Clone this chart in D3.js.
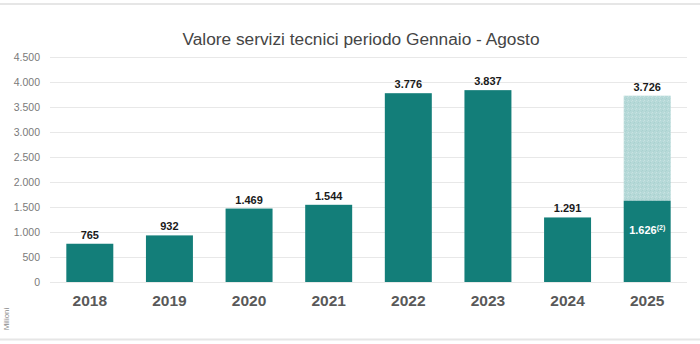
<!DOCTYPE html>
<html>
<head>
<meta charset="utf-8">
<script src="https://cdn.jsdelivr.net/npm/d3@7"></script>
<style>
  html, body { margin: 0; padding: 0; background: #fff; }
  svg { display: block; font-family: "Liberation Sans", Arial, sans-serif; }
</style>
</head>
<body>
<svg id="chart" width="700" height="344"></svg>
<script>
const years = ["2018", "2019", "2020", "2021", "2022", "2023", "2024", "2025"];
const solidValues = [765, 932, 1469, 1544, 3776, 3837, 1291, 1626];
const totalValues = [765, 932, 1469, 1544, 3776, 3837, 1291, 3726];
const yTicks = [0, 500, 1000, 1500, 2000, 2500, 3000, 3500, 4000, 4500];
const titleText = "Valore servizi tecnici periodo Gennaio - Agosto";
const unitText = "Milioni";

const fmt = v => d3.format(",")(v).replace(/,/g, ".");

const svg = d3.select("#chart");
const W = 700, H = 344;

const x = d3.scaleBand().domain(years).range([50, 687]).paddingInner(0.41).paddingOuter(0.205);
const y = d3.scaleLinear().domain([0, 4500]).range([282, 57]);

// frame lines
svg.append("line").attr("x1", 0).attr("x2", W).attr("y1", 4).attr("y2", 4)
  .attr("stroke", "#e6e6e6").attr("stroke-width", 2);
svg.append("line").attr("x1", 0).attr("x2", W).attr("y1", 339.5).attr("y2", 339.5)
  .attr("stroke", "#e6e6e6").attr("stroke-width", 2);

// pattern for projected part
const defs = svg.append("defs");
const pat = defs.append("pattern").attr("id", "dots").attr("patternUnits", "userSpaceOnUse")
  .attr("width", 4).attr("height", 4);
pat.append("rect").attr("width", 4).attr("height", 4).attr("fill", "#b6d9d8");
pat.append("rect").attr("x", 0).attr("y", 0).attr("width", 1).attr("height", 1).attr("fill", "#c9e3e2");
pat.append("rect").attr("x", 2).attr("y", 2).attr("width", 1).attr("height", 1).attr("fill", "#a9d1cf");
pat.append("rect").attr("x", 3).attr("y", 1).attr("width", 1).attr("height", 1).attr("fill", "#c4e0df");
pat.append("rect").attr("x", 1).attr("y", 3).attr("width", 1).attr("height", 1).attr("fill", "#add3d1");

// title
svg.append("text").attr("x", 361).attr("y", 45).attr("text-anchor", "middle")
  .attr("font-size", 17.3).attr("fill", "#454545").text(titleText);

// y axis
const yAxis = d3.axisLeft(y).tickValues(yTicks).tickSize(-(687 - 50)).tickPadding(10)
  .tickFormat(fmt);
const gy = svg.append("g").attr("transform", "translate(50,0)").call(yAxis);
gy.select(".domain").remove();
gy.selectAll(".tick line").attr("stroke", "#e8e8e8").attr("stroke-width", 1.2);
gy.selectAll(".tick text").attr("font-size", 10.5).attr("fill", "#7a7a7a")
  .attr("font-family", "Liberation Sans, Arial, sans-serif");

// x axis
const xAxis = d3.axisBottom(x).tickSize(0).tickPadding(13);
const gx = svg.append("g").attr("transform", "translate(0,282)").call(xAxis);
gx.select(".domain").remove();
gx.selectAll(".tick text").attr("font-size", 15.5).attr("font-weight", "bold").attr("fill", "#595959")
  .attr("font-family", "Liberation Sans, Arial, sans-serif");

// projected (light) bars
svg.append("g").selectAll("rect").data(years).join("rect")
  .filter((d, i) => totalValues[i] > solidValues[i])
  .attr("x", d => x(d))
  .attr("width", x.bandwidth())
  .attr("y", d => y(totalValues[years.indexOf(d)]))
  .attr("height", d => y(solidValues[years.indexOf(d)]) - y(totalValues[years.indexOf(d)]))
  .attr("fill", "url(#dots)");

// solid bars
svg.append("g").selectAll("rect").data(years).join("rect")
  .attr("x", d => x(d))
  .attr("width", x.bandwidth())
  .attr("y", (d, i) => y(solidValues[i]))
  .attr("height", (d, i) => y(0) - y(solidValues[i]))
  .attr("fill", "#137e79");

// total labels
svg.append("g").selectAll("text").data(years).join("text")
  .attr("x", d => x(d) + x.bandwidth() / 2)
  .attr("y", (d, i) => y(totalValues[i]) - 5)
  .attr("text-anchor", "middle")
  .attr("font-size", 11).attr("font-weight", "bold").attr("fill", "#1a1a1a")
  .text((d, i) => fmt(totalValues[i]));

// inner label for partial bar
years.forEach((d, i) => {
  if (totalValues[i] > solidValues[i]) {
    const t = svg.append("text")
      .attr("x", x(d) + x.bandwidth() / 2)
      .attr("y", y(solidValues[i]) + 33)
      .attr("text-anchor", "middle")
      .attr("font-size", 11).attr("font-weight", "bold").attr("fill", "#ffffff");
    t.append("tspan").text(fmt(solidValues[i]));
    t.append("tspan").attr("font-size", 7).attr("dy", -4).text("(2)");
  }
});

// unit label
svg.append("text").attr("transform", "translate(9,319) rotate(-90)")
  .attr("text-anchor", "middle").attr("font-size", 8).attr("fill", "#8a8a8a").text(unitText);
</script>
</body>
</html>
